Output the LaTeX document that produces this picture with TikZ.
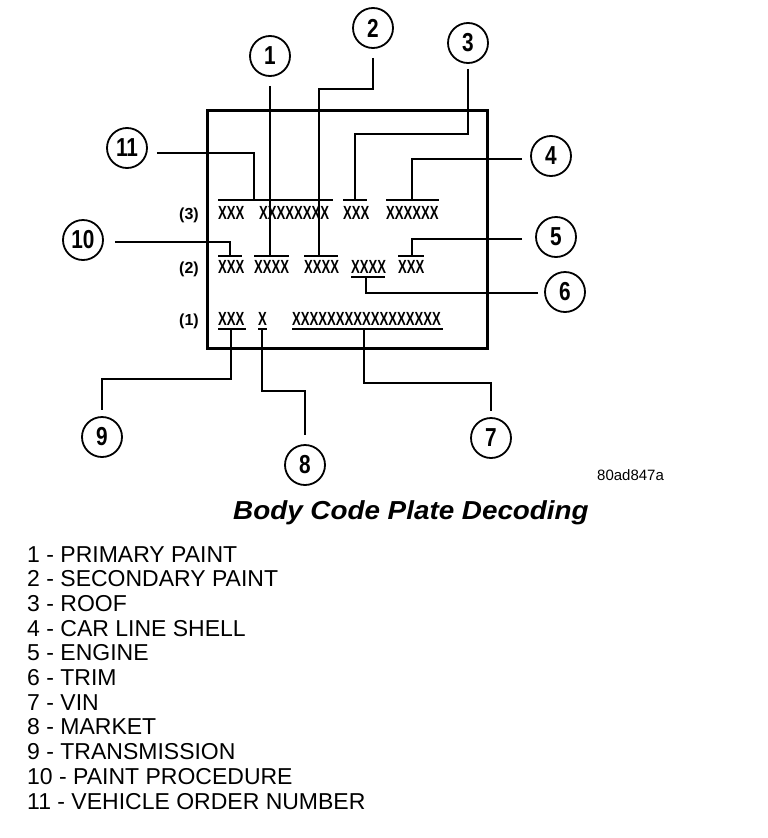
\documentclass[tikz,border=0pt]{standalone}
\usepackage{fontspec}
\setmainfont{Liberation Sans}
\usepackage{graphicx}
\newcommand\cnum[1]{\scalebox{0.8}[1]{#1}}
\newcommand\xcode[1]{\scalebox{0.69}[1]{#1}}
\begin{document}
\begin{tikzpicture}[x=1pt,y=-1pt,
  num/.style={circle,draw,line width=1.8pt,minimum size=40pt,inner sep=0pt,font=\fontsize{26}{26}\selectfont\bfseries},
  code/.style={anchor=base west,inner sep=0pt,font=\fontsize{19}{19}\selectfont\bfseries},
  rowlbl/.style={anchor=base west,inner sep=0pt,font=\fontsize{16}{16}\selectfont\bfseries},
  legend/.style={anchor=base west,inner sep=0pt,font=\fontsize{23}{23}\selectfont},
  lead/.style={line width=1.4pt},
  bar/.style={line width=2pt},
  plate/.style={line width=3pt}]
\useasboundingbox (0,0) rectangle (768,838);
% plate
\draw[plate] (207,110) rectangle (487,348);
% row labels
\node[rowlbl] (r3) at (179,219) {(3)};
\node[rowlbl] (r2) at (179,273) {(2)};
\node[rowlbl] (r1) at (179,325) {(1)};
% row 3 codes
\node[code] (t1) at (218,219) {\xcode{XXX}};
\node[code] (t2) at (259,219) {\xcode{XXXXXXXX}};
\node[code] (t3) at (343,219) {\xcode{XXX}};
\node[code] (t4) at (386,219) {\xcode{XXXXXX}};
% row 2 codes
\node[code] (s1) at (218,273) {\xcode{XXX}};
\node[code] (s2) at (254,273) {\xcode{XXXX}};
\node[code] (s3) at (304,273) {\xcode{XXXX}};
\node[code] (s4) at (351,273) {\xcode{XXXX}};
\node[code] (s5) at (398,273) {\xcode{XXX}};
% row 1 codes
\node[code] (u1) at (218,325) {\xcode{XXX}};
\node[code] (u2) at (258,325) {\xcode{X}};
\node[code] (u3) at (292,325) {\xcode{XXXXXXXXXXXXXXXXX}};
% bars
\draw[bar] (218,200) -- (333,200);
\draw[bar] (343,200) -- (367,200);
\draw[bar] (386,200) -- (439,200);
\draw[bar] (218,256) -- (242,256);
\draw[bar] (254,256) -- (289,256);
\draw[bar] (304,256) -- (338,256);
\draw[bar] (398,256) -- (424,256);
\draw[bar] (351,277) -- (385,277);
\draw[bar] (218,329) -- (246,329);
\draw[bar] (258,329) -- (267,329);
\draw[bar] (292,329) -- (443,329);
% attach points
\coordinate (a11) at (254,200);
\coordinate (a1) at (270,256);
\coordinate (a2) at (319,256);
\coordinate (a3) at (355,200);
\coordinate (a4) at (412,200);
\coordinate (a5) at (412,256);
\coordinate (a6) at (366,277);
\coordinate (a10) at (230,256);
\coordinate (a9) at (231,329);
\coordinate (a8) at (262,329);
\coordinate (a7) at (364,329);
% circles
\node[num] (c1) at (270,56) {\cnum{1}};
\node[num] (c2) at (373,28) {\cnum{2}};
\node[num] (c3) at (468,43) {\cnum{3}};
\node[num] (c4) at (551,156) {\cnum{4}};
\node[num] (c5) at (556,237) {\cnum{5}};
\node[num] (c6) at (565,292) {\cnum{6}};
\node[num] (c7) at (491,438) {\cnum{7}};
\node[num] (c8) at (305,465) {\cnum{8}};
\node[num] (c9) at (102,437) {\cnum{9}};
\node[num] (c10) at (83,240) {\cnum{10}};
\node[num] (c11) at (127,148) {\cnum{11}};
% leaders
\draw[lead] ([yshift=-9pt]c1.south) -- (a1);
\draw[lead] ([yshift=-9pt]c2.south) -- ++(0,31) -| (a2);
\draw[lead] ([yshift=-5pt]c3.south) -- ++(0,65) -| (a3);
\draw[lead] ([xshift=-8pt,yshift=-3pt]c4.west) -| (a4);
\draw[lead] ([xshift=-13pt,yshift=-2pt]c5.west) -| (a5);
\draw[lead] ([xshift=-6pt,yshift=-1pt]c6.west) -| (a6);
\draw[lead] ([xshift=11pt,yshift=-2pt]c10.east) -| (a10);
\draw[lead] ([xshift=9pt,yshift=-5pt]c11.east) -| (a11);
\draw[lead] (a9) -- ++(0,50) -| ([yshift=6pt]c9.north);
\draw[lead] (a8) -- ++(0,62) -| ([yshift=9pt]c8.north);
\draw[lead] (a7) -- ++(0,54) -| ([yshift=6pt]c7.north);
% figure id and title
\node[anchor=base west,inner sep=0pt,font=\fontsize{15}{15}\selectfont] (fid) at (597,480) {80ad847a};
\node[anchor=base west,inner sep=0pt,font=\fontsize{26}{26}\selectfont\bfseries\itshape] (title) at (233,519) {\scalebox{1.07}[1]{Body Code Plate Decoding}};
% legend
\node[legend] (l1) at (27,562) {1 - PRIMARY PAINT};
\node[legend] (l2) at (27,586.7) {2 - SECONDARY PAINT};
\node[legend] (l3) at (27,611.4) {3 - ROOF};
\node[legend] (l4) at (27,636.1) {4 - CAR LINE SHELL};
\node[legend] (l5) at (27,660.8) {5 - ENGINE};
\node[legend] (l6) at (27,685.5) {6 - TRIM};
\node[legend] (l7) at (27,710.2) {7 - VIN};
\node[legend] (l8) at (27,734.9) {8 - MARKET};
\node[legend] (l9) at (27,759.6) {9 - TRANSMISSION};
\node[legend] (l10) at (27,784.3) {10 - PAINT PROCEDURE};
\node[legend] (l11) at (27,809) {11 - VEHICLE ORDER NUMBER};
\end{tikzpicture}
\end{document}
